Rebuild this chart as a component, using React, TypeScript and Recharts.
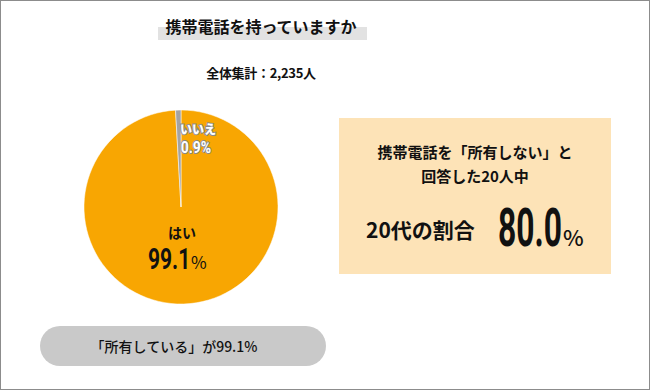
import React from 'react';
import { PieChart, Pie, Cell } from 'recharts';

// 携帯電話の所有率
const answers = ['はい', 'いいえ'];
const shares = [99.1, 0.9];
const sliceColors = ['#F8A602', '#A3A3A3'];

const title = '携帯電話を持っていますか';
const totalLabel = '全体集計：2,235人';
const noteLines = ['携帯電話を「所有しない」と', '回答した20人中'];
const ageLabel = '20代の割合';
const ageShare = '80.0';
const pillText = '「所有している」が99.1%';

const pieData = answers.map((name, i) => ({ name, value: shares[i] }));

const JP = '"Noto Sans CJK JP", "Noto Sans", sans-serif';
const NUM = 'Roboto, "DejaVu Sans", sans-serif';

const renderLabel = (props: any) => {
  const { cx, cy, name, value } = props;
  if (name === 'はい') {
    return (
      <g>
        <text x={cx + 1} y={cy + 31} textAnchor="middle" fontFamily={JP} fontWeight={700} fontSize={14} fill="#111">
          {name}
        </text>
        <text transform={`translate(${cx - 33} ${cy + 62}) scale(0.7 1)`} fontFamily={NUM} fontWeight={700} fontSize={30} fill="#111">
          {value.toFixed(1)}
        </text>
        <text x={cx + 10} y={cy + 62} fontFamily={JP} fontSize={17} fill="#111">%</text>
      </g>
    );
  }
  return (
    <g>
      <text x={cx + 17} y={cy - 73} textAnchor="middle" fontFamily={JP} fontWeight={900} fontSize={12}
        fill="#fff" stroke="#8a8a8a" strokeWidth={2} paintOrder="stroke">
        {name}
      </text>
      <text transform={`translate(${cx + 15} ${cy - 54}) scale(0.82 1)`} textAnchor="middle" fontFamily={NUM} fontWeight={700} fontSize={17}
        fill="#fff" stroke="#8a8a8a" strokeWidth={2} paintOrder="stroke">
        {value.toFixed(1)}%
      </text>
    </g>
  );
};

export default function App() {
  return (
    <div
      style={{
        position: 'relative',
        width: 650,
        height: 390,
        boxSizing: 'border-box',
        border: '1px solid #8c8c8c',
        background: '#fff',
        fontFamily: JP,
        color: '#111',
        overflow: 'hidden',
      }}
    >
      <style>{'body{margin:0}'}</style>

      {/* タイトル */}
      <div style={{ position: 'absolute', left: 157, top: 26, width: 209, height: 13, background: '#E2E2E2' }} />
      <div style={{ position: 'absolute', left: 60, width: 400, top: 13, textAlign: 'center', fontSize: 16, fontWeight: 700, lineHeight: '24px' }}>
        {title}
      </div>
      <div style={{ position: 'absolute', left: 60, width: 400, top: 61, textAlign: 'center', fontSize: 13, fontWeight: 700, lineHeight: '22px', letterSpacing: -0.3 }}>
        {totalLabel}
      </div>

      {/* 円グラフ */}
      <div style={{ position: 'absolute', left: 0, top: 0 }}>
        <PieChart width={650} height={390}>
          <Pie
            data={pieData}
            dataKey="value"
            nameKey="name"
            cx={175}
            cy={201}
            outerRadius={97}
            startAngle={90}
            endAngle={-270}
            stroke="#fff"
            strokeWidth={0.5}
            label={renderLabel}
            labelLine={false}
            isAnimationActive={false}
          >
            {pieData.map((d, i) => (
              <Cell key={d.name} fill={sliceColors[i]} />
            ))}
          </Pie>
        </PieChart>
      </div>

      {/* 右側の注記 */}
      <svg style={{ position: 'absolute', left: 338, top: 117 }} width={272} height={156}>
        <rect x={0} y={0} width={272} height={156} fill="#FDE3B7" />
        <text x={136} y={40} textAnchor="middle" fontFamily={JP} fontWeight={700} fontSize={15} fill="#111">
          {noteLines[0]}
        </text>
        <text x={136} y={64} textAnchor="middle" fontFamily={JP} fontWeight={700} fontSize={15} fill="#111">
          {noteLines[1]}
        </text>
        <text x={27} y={120} fontFamily={JP} fontWeight={700} fontSize={21} fill="#111">
          {ageLabel}
        </text>
        <text transform="translate(159 128) scale(0.6 1)" fontFamily={NUM} fontWeight={700} fontSize={53} fill="#111">
          {ageShare}
        </text>
        <text x={224} y={128} fontFamily={JP} fontWeight={500} fontSize={22} fill="#111">%</text>
      </svg>

      {/* 下部のラベル */}
      <div
        style={{
          position: 'absolute',
          left: 39,
          top: 325,
          width: 286,
          height: 40,
          boxSizing: 'border-box',
          paddingRight: 18,
          borderRadius: 20,
          background: '#C9C9C9',
          textAlign: 'center',
          lineHeight: '40px',
          fontSize: 14,
          fontWeight: 500,
        }}
      >
        {pillText}
      </div>
    </div>
  );
}
